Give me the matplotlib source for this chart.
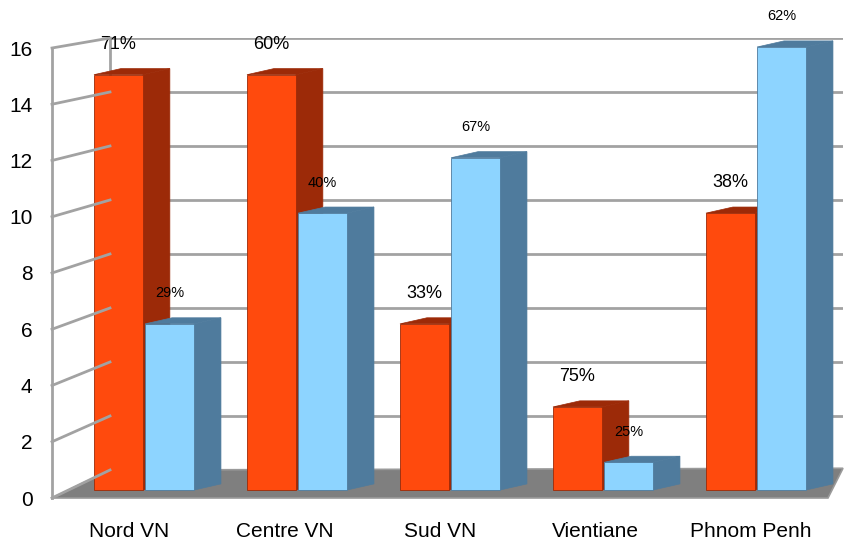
import matplotlib.pyplot as plt
import numpy as np
from matplotlib.patches import Polygon
from matplotlib.lines import Line2D

plt.rcParams['font.family'] = ['Liberation Sans', 'DejaVu Sans']

# data
categories = ['Nord VN', 'Centre VN', 'Sud VN', 'Vientiane', 'Phnom Penh']
orange_vals = [15, 15, 6, 3, 10]
blue_vals = [6, 10, 12, 1, 16]
orange_pct = [71, 60, 33, 75, 38]
blue_pct = [29, 40, 67, 25, 62]
yticks = [0, 2, 4, 6, 8, 10, 12, 14, 16]

W, H = 844, 540
fig = plt.figure(figsize=(W / 100, H / 100), dpi=100)


def px_rect(l, t, r, b):
    return [l / W, 1 - b / H, (r - l) / W, (b - t) / H]


grid_col = '#a2a2a2'
grid_lw = 2.0

# back wall (grid lines)
ax_back = fig.add_axes(px_rect(110, 38, 843, 470))
ax_back.set_xlim(0, 1)
ax_back.set_ylim(0, 16)
ax_back.set_yticks(yticks)
ax_back.set_xticks([])
ax_back.tick_params(left=False, labelleft=False)
ax_back.grid(axis='y', color=grid_col, lw=grid_lw)
for s in ['top', 'right', 'bottom']:
    ax_back.spines[s].set_visible(False)
ax_back.spines['left'].set_color(grid_col)
ax_back.spines['left'].set_linewidth(grid_lw)
ax_back.set_facecolor('none')

# front plane: ticks, category labels, left wall, floor
ax = fig.add_axes(px_rect(52, 48, 828, 498))
ax.set_facecolor('none')
ax.set_xlim(-0.5, len(categories) - 0.5)
ax.set_ylim(0, 16)
ax.set_yticks(yticks)
ax.set_xticks(range(len(categories)))
ax.set_xticklabels(categories)
ax.tick_params(axis='y', length=0, pad=14, labelsize=15)
ax.tick_params(axis='x', length=0, pad=17, labelsize=15)
for s in ['top', 'right', 'bottom']:
    ax.spines[s].set_visible(False)
ax.spines['left'].set_color(grid_col)
ax.spines['left'].set_linewidth(grid_lw)

inv = fig.transFigure.inverted()
for v in yticks:
    p1 = inv.transform(ax.transData.transform((-0.5, v)))
    p2 = inv.transform(ax_back.transData.transform((0, v)))
    fig.add_artist(Line2D([p1[0], p2[0]], [p1[1], p2[1]], color=grid_col,
                          lw=grid_lw, transform=fig.transFigure))

to_front = ax.transData.inverted()
fl = ax.transAxes.transform((0, 0))
fr = ax.transAxes.transform((1, 0))
br = ax_back.transAxes.transform((1, 0.004))
bl = ax_back.transAxes.transform((0, 0))
floor = Polygon(to_front.transform([fl, fr, br, bl]), closed=True,
                facecolor='#7f7f7f', edgecolor='#9a9a9a', lw=1.2, clip_on=False)
ax.add_patch(floor)

# bars
axb = fig.add_axes(px_rect(67.5, 47, 832.5, 490))
axb.set_facecolor('none')
axb.set_xlim(-0.5, len(categories) - 0.5)
axb.set_ylim(0, 16)
axb.axis('off')

bw = 0.32
off = 0.167
ddx, ddy = 0.176, 0.22
series = [
    (orange_vals, orange_pct, -off, '#ff4a0d', '#9c2a08', 13),
    (blue_vals, blue_pct, off, '#8dd4ff', '#4f7b9d', 10.5),
]
x = np.arange(len(categories))
for i in range(len(categories)):
    for vals, pcts, o, front, dark, fs in series:
        v = vals[i]
        x0 = x[i] + o - bw / 2
        x1 = x0 + bw
        side = Polygon([(x1, 0), (x1 + ddx, ddy), (x1 + ddx, v + ddy), (x1, v)],
                       closed=True, facecolor=dark, edgecolor=dark, lw=0.5,
                       clip_on=False)
        top = Polygon([(x0, v), (x1, v), (x1 + ddx, v + ddy), (x0 + ddx, v + ddy)],
                      closed=True, facecolor=dark, edgecolor=dark, lw=0.5,
                      clip_on=False)
        axb.add_patch(side)
        axb.add_patch(top)
        axb.bar(x[i] + o, v, width=bw, color=front, edgecolor=dark,
                linewidth=0.6, clip_on=False)
        axb.annotate(f'{pcts[i]}%', (x[i] + o, v), xytext=(0, 22),
                     textcoords='offset points', ha='center', va='center',
                     fontsize=fs, color='black', annotation_clip=False)

fig.savefig('out.png', dpi=100)
